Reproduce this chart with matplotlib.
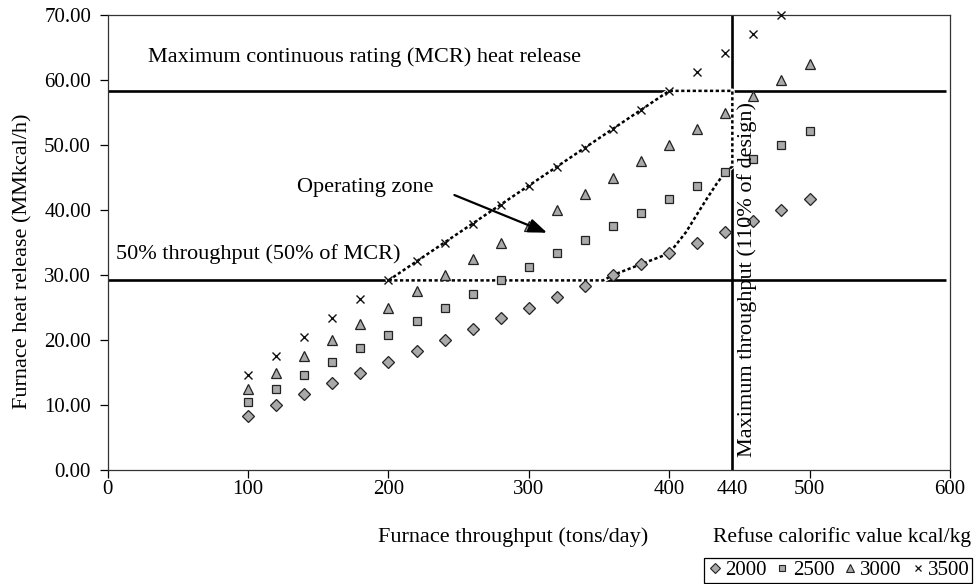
import numpy as np
import matplotlib.pyplot as plt
from matplotlib.lines import Line2D

plt.rcParams['font.family'] = ['Liberation Serif', 'DejaVu Serif']

# furnace throughput (tons/day)
throughput = [100, 120, 140, 160, 180, 200, 220, 240, 260, 280, 300,
              320, 340, 360, 380, 400, 420, 440, 460, 480, 500]

# heat release (MMkcal/h) for each refuse calorific value (kcal/kg)
cv_2000 = [8.33, 10.00, 11.67, 13.33, 15.00, 16.67, 18.33, 20.00, 21.67, 23.33, 25.00,
           26.67, 28.33, 30.00, 31.67, 33.33, 35.00, 36.67, 38.33, 40.00, 41.67]
cv_2500 = [10.42, 12.50, 14.58, 16.67, 18.75, 20.83, 22.92, 25.00, 27.08, 29.17, 31.25,
           33.33, 35.42, 37.50, 39.58, 41.67, 43.75, 45.83, 47.92, 50.00, 52.08]
cv_3000 = [12.50, 15.00, 17.50, 20.00, 22.50, 25.00, 27.50, 30.00, 32.50, 35.00, 37.50,
           40.00, 42.50, 45.00, 47.50, 50.00, 52.50, 55.00, 57.50, 60.00, 62.50]
cv_3500 = [14.58, 17.50, 20.42, 23.33, 26.25, 29.17, 32.08, 35.00, 37.92, 40.83, 43.75,
           46.67, 49.58, 52.50, 55.42, 58.33, 61.25, 64.17, 67.08, 70.00, np.nan]

mcr = 58.33
half_mcr = 29.17
max_tp = 445          # drawn position of the "440" max throughput line

# operating zone outline
zone_x = [200, 400, max_tp, max_tp, 440, 434, 427, 420, 412, 400, 380, 360, 353, 200]
zone_y = [29.17, 58.33, 58.33, 46.7, 45.83, 44.1, 41.8, 39.4, 36.6, 33.33, 31.67, 30.0, 29.17, 29.17]

grey = "#a9a9a9"

fig = plt.figure(figsize=(9.78, 5.84), dpi=100)
ax = fig.add_axes([0.1101, 0.1952, 0.8612, 0.7791])

# reference lines
ax.plot([0, 597], [mcr, mcr], color="black", lw=1.9, zorder=2, solid_capstyle="butt")
ax.plot([0, 597], [half_mcr, half_mcr], color="black", lw=1.9, zorder=2, solid_capstyle="butt")
ax.plot([max_tp, max_tp], [0, 70], color="black", lw=1.9, zorder=2, solid_capstyle="butt")

# operating zone (white underlay breaks the solid lines)
ax.plot(zone_x, zone_y, color="white", lw=3.4, zorder=2.5)
ax.plot(zone_x, zone_y, color="black", lw=1.8, ls=(0, (1.3, 1.0)), zorder=3)

ax.plot(throughput, cv_2000, ls="none", marker="D", ms=5.8, mfc=grey, mec="#222222",
        mew=0.9, zorder=4, clip_on=False)
ax.plot(throughput, cv_2500, ls="none", marker="s", ms=5.6, mfc=grey, mec="#222222",
        mew=0.9, zorder=4, clip_on=False)
ax.plot(throughput, cv_3000, ls="none", marker="^", ms=7, mfc=grey, mec="#222222",
        mew=0.9, zorder=4, clip_on=False)
ax.plot(throughput, cv_3500, ls="none", marker="x", ms=6, mec="#111111",
        mew=1.0, zorder=4, clip_on=False)

fs = 16
ax.text(29, 63.5, "Maximum continuous rating (MCR) heat release", fontsize=fs,
        va="center", ha="left")
ax.text(6, 33.2, "50% throughput (50% of MCR)", fontsize=fs, va="center", ha="left")
ax.text(183.5, 43.5, "Operating zone", fontsize=fs, va="center", ha="center")
ax.annotate("", xy=(313, 36.5), xytext=(247, 42.3),
            arrowprops=dict(arrowstyle="-|>,head_length=1.1,head_width=0.42",
                            color="black", lw=1.6, shrinkA=0, shrinkB=0), zorder=5)
ax.text(455.5, 2.0, "Maximum throughput (110% of design)", fontsize=fs, rotation=90,
        va="bottom", ha="center", zorder=5)

tfs = 15
ax.set_xlim(0, 600)
ax.set_ylim(0, 70)
ax.set_xticks([0, 100, 200, 300, 400, 500, 600])
ax.set_xticks([max_tp], labels=["440"], minor=True)
ax.set_yticks(np.arange(0, 71, 10))
ax.set_yticklabels([f"{v:.2f}" for v in np.arange(0, 71, 10)])
ax.tick_params(axis="x", which="major", direction="out", length=6, width=0.9,
               pad=1, labelsize=tfs)
ax.tick_params(axis="x", which="minor", length=0, pad=7, labelsize=tfs)
ax.tick_params(axis="y", direction="out", length=6, width=0.9, pad=6, labelsize=tfs)
for spine in ax.spines.values():
    spine.set_linewidth(0.9)
    spine.set_color("#333333")

fig.text(0.0235, 0.553, "Furnace heat release (MMkcal/h)", rotation=90,
         fontsize=fs, ha="center", va="center")
fig.text(0.525, 0.0805, "Furnace throughput (tons/day)", fontsize=fs,
         ha="center", va="center")
fig.text(0.993, 0.0805, "Refuse calorific value kcal/kg", fontsize=15.5,
         ha="right", va="center")

handles = [
    Line2D([], [], ls="none", marker="D", ms=5.5, mfc=grey, mec="#222222", mew=0.8),
    Line2D([], [], ls="none", marker="s", ms=5, mfc=grey, mec="#222222", mew=0.8),
    Line2D([], [], ls="none", marker="^", ms=5.5, mfc=grey, mec="#222222", mew=0.8),
    Line2D([], [], ls="none", marker="x", ms=5, mec="#111111", mew=0.9),
]
leg = fig.legend(handles, ["2000", "2500", "3000", "3500"], loc="center",
                 bbox_to_anchor=(0.857, 0.023), ncol=4, fontsize=15,
                 frameon=True, fancybox=False, edgecolor="black", framealpha=1,
                 handlelength=0.8, handletextpad=0.1, columnspacing=0.35,
                 borderpad=0.12, borderaxespad=0)
leg.get_frame().set_linewidth(0.9)

fig.savefig("out.png", dpi=100)
